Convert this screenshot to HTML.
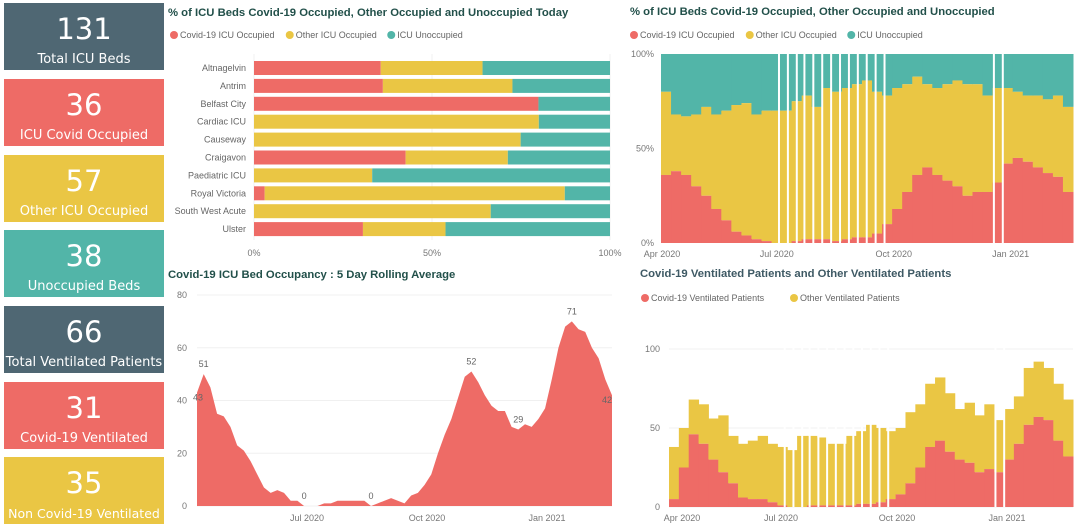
<!DOCTYPE html>
<html><head><meta charset="utf-8"><style>
body{margin:0;width:1080px;height:530px;background:#fff;font-family:"Liberation Sans",sans-serif;overflow:hidden;position:relative}
.card{position:absolute;left:4px;width:160px;height:67px;color:#fff;text-align:center}
.card .v{font-size:29px;line-height:30px;padding-top:11px;font-family:"DejaVu Sans","Liberation Sans",sans-serif}
.card .l{font-size:13px;margin-top:8px;font-family:"DejaVu Sans","Liberation Sans",sans-serif}
svg{position:absolute;left:0;top:0}
svg text{font-family:"Liberation Sans",sans-serif}
</style></head><body>
<div class="card" style="top:3px;background:#4F6773"><div class="v">131</div><div class="l">Total ICU Beds</div></div>
<div class="card" style="top:79px;background:#EE6B66"><div class="v">36</div><div class="l">ICU Covid Occupied</div></div>
<div class="card" style="top:155px;background:#EAC644"><div class="v">57</div><div class="l">Other ICU Occupied</div></div>
<div class="card" style="top:230px;background:#52B5A8"><div class="v">38</div><div class="l">Unoccupied Beds</div></div>
<div class="card" style="top:306px;background:#4F6773"><div class="v">66</div><div class="l">Total Ventilated Patients</div></div>
<div class="card" style="top:382px;background:#EE6B66"><div class="v">31</div><div class="l">Covid-19 Ventilated</div></div>
<div class="card" style="top:457px;background:#EAC644"><div class="v">35</div><div class="l" style="font-size:12.5px">Non Covid-19 Ventilated</div></div>
<svg id="s" width="1080" height="530"></svg>
<script>
// ---- bar chart data (today) ----
const hospitals=["Altnagelvin","Antrim","Belfast City","Cardiac ICU","Causeway","Craigavon","Paediatric ICU","Royal Victoria","South West Acute","Ulster"];
const hospCovid=[35.6,36.2,79.9,0,0,42.6,0,3,0,30.6];
const hospOther=[28.6,36.4,0,80,74.9,28.7,33.2,84.3,66.5,23.2];
const barTicks=["0%","50%","100%"];
// ---- rolling average ----
const rolling=[43,50,45,35,34,30,23,21,17,12,7,5,6,5,2,2,0,0,0,1,1,2,2,2,2,2,0,1,2,3,2,1,4,5,8,12,20,27,33,41,49,51,47,42,38,36,36,30,29,31,30,33,37,48,60,68,70,67,66,60,56,48,42];
const rollLabelIdx=[0,1,16,26,41,48,56,62];
const rollLabelTxt=["43","51","0","0","52","29","71","42"];
const rollTicks=[0,20,40,60,80];
// ---- % occupancy over time ----
const pctCovid=[36,38,36,30,25,18,12,6,4,2,1,0,0,1,2,2,2,1,2,3,3,5,10,18,27,36,40,36,33,30,25,27,27,32,42,45,43,40,37,35,27];
const pctOther=[44,30,31,38,47,50,58,67,70,66,69,70,70,74,76,70,80,79,80,81,83,75,68,64,57,52,44,46,51,56,59,57,51,50,40,35,35,38,39,43,45];
const gapDays=[92,99,106,112,119,126,133,140,147,154,161,168,175,261,268];
const spanDays=324;
const monthLabels=["Apr 2020","Jul 2020","Oct 2020","Jan 2021"];
const monthDays=[0,91,183,275];
// ---- ventilated ----
const ventCovid=[5,25,46,40,30,22,15,6,5,5,3,1,0,0,1,1,1,1,1,2,2,3,5,8,15,25,38,42,35,30,28,22,24,22,30,40,52,57,55,42,32];
const ventOther=[33,25,22,25,26,36,30,34,37,40,37,37,36,45,44,43,39,39,44,46,50,47,43,42,45,40,40,40,37,32,38,36,41,33,32,30,36,35,33,36,36];
const ventTicks=[0,50,100];

const R="#EE6B66",Y="#EAC644",T="#52B5A8",G="#F0F0F0",TX="#777";
const s=document.getElementById('s');
function el(tag,a,txt){const e=document.createElementNS("http://www.w3.org/2000/svg",tag);for(const k in a)e.setAttribute(k,a[k]);if(txt!==undefined)e.textContent=txt;s.appendChild(e);return e;}
function title(x,y,t,c,n){const e=el('text',{x:x,y:y,'font-size':11.3,'font-weight':'bold',fill:c||'#22504A'},t);}
function legend(x,y,items){let cx=x;items.forEach(([c,t])=>{const d=el('circle',{cx:cx+4,cy:y-3,r:4,fill:c});const e=el('text',{x:cx+10,y:y,'font-size':9,fill:'#666'},t);cx+=12+t.length*4.75+4;});}

// ===== Chart 1: horizontal bars =====
title(168,16,"% of ICU Beds Covid-19 Occupied, Other Occupied and Unoccupied Today",null,'bar-chart-title');
legend(170,38,[[R,"Covid-19 ICU Occupied"],[Y,"Other ICU Occupied"],[T,"ICU Unoccupied"]]);
const bx0=254,bx1=610,bw=(v)=>v/100*(bx1-bx0);
[0,50,100].forEach((v,i)=>{const x=bx0+bw(v);el('line',{x1:x,x2:x,y1:54,y2:240,stroke:G});const t=el('text',{x:x,y:256,'font-size':9,fill:TX,'text-anchor':'middle'},barTicks[i]);});
hospitals.forEach((h,i)=>{const y=61+i*17.9;const lab=el('text',{x:246,y:y+10,'font-size':9,fill:'#666','text-anchor':'end'},h);
 const c=hospCovid[i],o=hospOther[i];
 const r1=el('rect',{x:bx0,y:y,width:bw(c),height:14,fill:R});
 const r2=el('rect',{x:bx0+bw(c),y:y,width:bw(o),height:14,fill:Y});
 const r3=el('rect',{x:bx0+bw(c+o),y:y,width:bw(100-c-o),height:14,fill:T});});

// ===== Chart 2: rolling avg =====
title(168,278,"Covid-19 ICU Bed Occupancy : 5 Day Rolling Average",null,'rolling-chart-title');
const lx0=197,lx1=612,ly0=506,ly1=295;const ly=v=>ly0-(v/80)*(ly0-ly1);const lx=i=>lx0+i*(lx1-lx0)/(rolling.length-1);
rollTicks.forEach(v=>{el('line',{x1:lx0,x2:lx1,y1:ly(v),y2:ly(v),stroke:G});const t=el('text',{x:187,y:ly(v)+3,'font-size':9,fill:TX,'text-anchor':'end'},v);});
let p=`M${lx0},${ly0}`;rolling.forEach((v,i)=>{p+=` L${lx(i)},${ly(v)}`;});p+=` L${lx1},${ly0} Z`;
const ar=el('path',{d:p,fill:R});
rollLabelIdx.forEach((idx,k)=>{const t=el('text',{x:lx(idx)+(k==0?1:k==7?-5:0),y:ly(rolling[idx])-(k==0||k==7?-8:7),'font-size':9,fill:'#666','text-anchor':'middle'},rollLabelTxt[k]);});
[["Jul 2020",307],["Oct 2020",427],["Jan 2021",547]].forEach(([t,x])=>{const e=el('text',{x:x,y:521,'font-size':9,fill:TX,'text-anchor':'middle'},t);});

// ===== Chart 3: 100% stacked over time =====
title(630,15,"% of ICU Beds Covid-19 Occupied, Other Occupied and Unoccupied",null,'pct-chart-title');
legend(630,38,[[R,"Covid-19 ICU Occupied"],[Y,"Other ICU Occupied"],[T,"ICU Unoccupied"]]);
const px0=661,px1=1073,py0=243,py1=54;const py=v=>py0-v/100*(py0-py1);const pstep=(px1-px0)/pctCovid.length;
pctCovid.forEach((c,i)=>{const x=px0+i*pstep,o=pctOther[i];
 const a=el('rect',{x:x,y:py1,width:pstep+0.5,height:py(c+o)-py1,fill:T});
 const b=el('rect',{x:x,y:py(c+o),width:pstep+0.5,height:py(c)-py(c+o),fill:Y});
 const d=el('rect',{x:x,y:py(c),width:pstep+0.5,height:py0-py(c),fill:R});});
gapDays.forEach(g=>{const x=px0+g/spanDays*(px1-px0);el('rect',{x:x,y:py1,width:2,height:py0-py1,fill:'#fff'});});
[[0,"0%"],[50,"50%"],[100,"100%"]].forEach(([v,t])=>{const e=el('text',{x:654,y:py(v)+3,'font-size':9,fill:TX,'text-anchor':'end'},t);});
monthLabels.forEach((m,i)=>{const x=px0+monthDays[i]/spanDays*(px1-px0);const e=el('text',{x:x+(i==0?1:0),y:257,'font-size':9,fill:TX,'text-anchor':'middle'},m);});

// ===== Chart 4: ventilated =====
title(640,277,"Covid-19 Ventilated Patients and Other Ventilated Patients","#3E5964",'ventilated-chart-title');
legend(641,301,[[R,"Covid-19 Ventilated Patients"],[Y,"Other Ventilated Patients"]]);
const vx0=669,vx1=1073,vy0=507,vy1=349;const vy=v=>vy0-v/100*(vy0-vy1);const vstep=(vx1-vx0)/ventCovid.length;
ventTicks.forEach(v=>{el('line',{x1:vx0,x2:vx1,y1:vy(v),y2:vy(v),stroke:G});const e=el('text',{x:660,y:vy(v)+3,'font-size':9,fill:TX,'text-anchor':'end'},v);});
ventCovid.forEach((c,i)=>{const x=vx0+i*vstep,o=ventOther[i];
 const b=el('rect',{x:x,y:vy(c+o),width:vstep+0.5,height:vy(c)-vy(c+o),fill:Y});
 const d=el('rect',{x:x,y:vy(c),width:vstep+0.5,height:vy0-vy(c),fill:R});});
gapDays.forEach(g=>{const x=vx0+g/spanDays*(vx1-vx0);el('rect',{x:x,y:vy1-10,width:2,height:vy0-vy1+10,fill:'#fff'});});
[["Apr 2020",682],["Jul 2020",781],["Oct 2020",897],["Jan 2021",1007]].forEach(([t,x])=>{const e=el('text',{x:x,y:521,'font-size':9,fill:TX,'text-anchor':'middle'},t);});
</script>
</body></html>
